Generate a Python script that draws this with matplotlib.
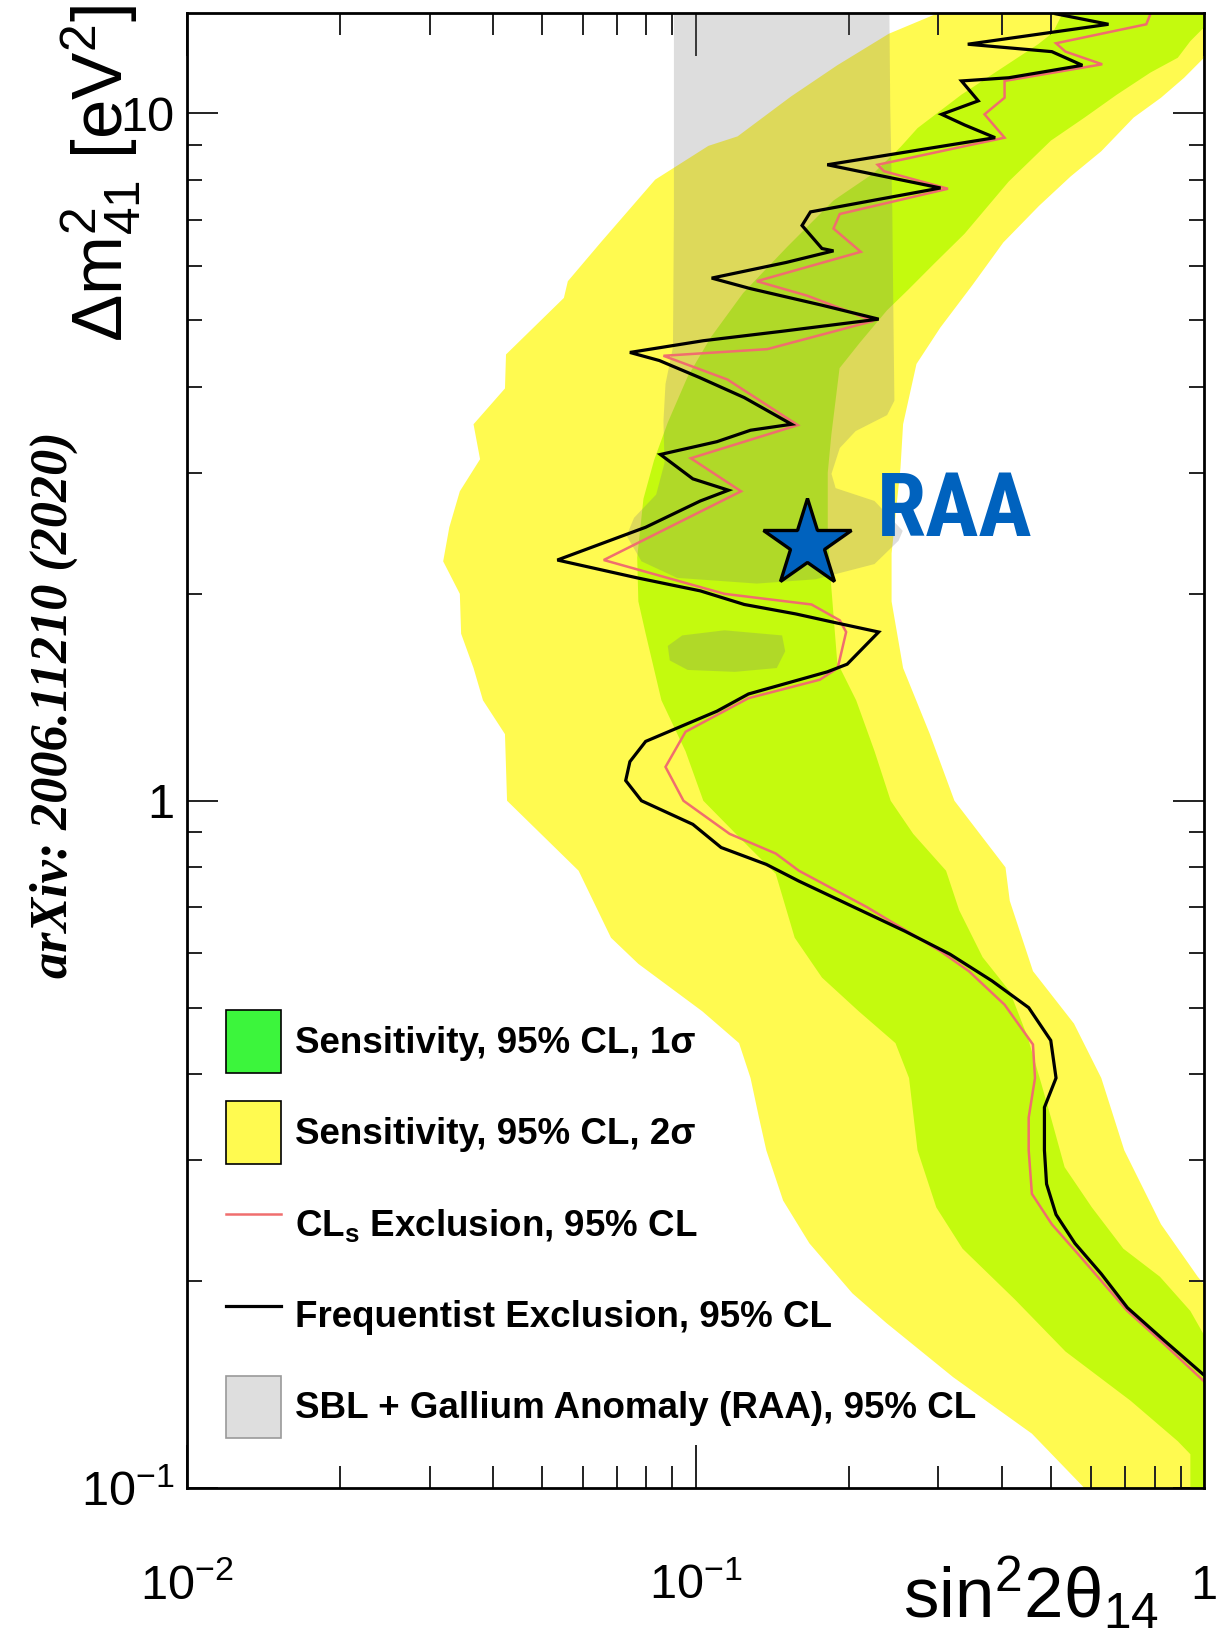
import numpy as np
import matplotlib
matplotlib.use("Agg")
import matplotlib.pyplot as plt
from matplotlib import font_manager as fm
from matplotlib.patches import Patch
from matplotlib.lines import Line2D
from matplotlib.ticker import LogLocator, NullFormatter, FixedLocator, FixedFormatter

plt.rcParams['font.family'] = ['Liberation Sans', 'DejaVu Sans']
plt.rcParams['mathtext.fontset'] = 'custom'
plt.rcParams['mathtext.rm'] = 'Liberation Sans'
plt.rcParams['mathtext.it'] = 'Liberation Sans:italic'
plt.rcParams['mathtext.bf'] = 'Liberation Sans:bold'

# ---------------- data (sin^2 2theta14, dm41^2 [eV^2]) ----------------
# 2 sigma sensitivity band: left and right edges (top -> bottom)
yellow_left_x = [0.298, 0.2976, 0.240, 0.190, 0.154, 0.121, 0.106, 0.0833, 0.0651, 0.0561, 0.0551,
                 0.0424, 0.0422, 0.0366, 0.0377, 0.0344, 0.0328, 0.0319, 0.0344, 0.0346, 0.0366,
                 0.0382, 0.0422, 0.0426, 0.0589, 0.0682, 0.0772, 0.1031, 0.1218, 0.1283, 0.1333,
                 0.1378, 0.1487, 0.1675, 0.2035, 0.2370, 0.3211, 0.4587, 0.5819, 0.65]
yellow_left_y = [15, 13.96, 13.06, 11.75, 10.58, 9.26, 8.97, 8.01, 6.49, 5.70, 5.39,
                 4.46, 3.98, 3.53, 3.14, 2.82, 2.50, 2.23, 2.00, 1.75, 1.56,
                 1.40, 1.25, 1.00, 0.791, 0.632, 0.579, 0.494, 0.444, 0.395, 0.346,
                 0.310, 0.262, 0.227, 0.192, 0.174, 0.145, 0.120, 0.100, 0.09]
yellow_right_x = [1.3, 1.3, 1.0, 0.914, 0.823, 0.727, 0.628, 0.547, 0.474, 0.403, 0.350, 0.303,
                  0.272, 0.256, 0.253, 0.243, 0.243, 0.256, 0.289, 0.323, 0.407, 0.415, 0.461,
                  0.555, 0.628, 0.697, 0.823, 0.972, 1.3, 1.3]
yellow_right_y = [15, 13.5, 12.05, 11.27, 10.54, 9.86, 8.81, 8.10, 7.34, 6.49, 5.62, 4.88,
                  4.32, 3.53, 3.05, 2.29, 1.95, 1.56, 1.25, 1.00, 0.80, 0.715, 0.565,
                  0.474, 0.395, 0.310, 0.242, 0.203, 0.157, 0.09]

# 1 sigma sensitivity band
green_left_x = [0.53, 0.5265, 0.5044, 0.4719, 0.3996, 0.3335, 0.2733, 0.2532, 0.2238, 0.1868,
                0.1516, 0.1241, 0.1071, 0.0965, 0.0882, 0.0829, 0.0790, 0.0768, 0.0772, 0.0798,
                0.0857, 0.0956, 0.1036, 0.1241, 0.1438, 0.1567, 0.1773, 0.2094, 0.2473, 0.2630,
                0.2733, 0.2976, 0.3351, 0.4250, 0.5341, 0.7170, 0.8880, 0.9401, 0.9401, 0.94]
green_left_y = [15, 13.96, 13.11, 12.61, 11.63, 10.65, 9.52, 8.94, 8.18, 7.47,
                6.40, 5.48, 4.72, 4.14, 3.55, 3.13, 2.75, 2.26, 1.95, 1.75,
                1.40, 1.18, 1.00, 0.873, 0.783, 0.632, 0.553, 0.494, 0.444, 0.395,
                0.310, 0.256, 0.223, 0.188, 0.158, 0.134, 0.117, 0.112, 0.100, 0.09]
green_right_x = [1.3, 1.3, 1.0, 0.940, 0.888, 0.785, 0.674, 0.582, 0.500, 0.413, 0.338, 0.295,
                 0.262, 0.238, 0.211, 0.192, 0.185, 0.182, 0.182, 0.185, 0.190, 0.207, 0.225,
                 0.242, 0.268, 0.311, 0.330, 0.367, 0.415, 0.450, 0.479, 0.500, 0.532, 0.602,
                 0.694, 0.819, 0.940, 1.0, 1.3, 1.3]
green_right_y = [15, 14, 13.34, 12.74, 12.05, 11.47, 10.65, 9.86, 9.13, 7.96, 6.68, 6.05,
                 5.54, 5.17, 4.65, 4.26, 3.41, 3.00, 2.45, 2.04, 1.59, 1.40, 1.18,
                 1.00, 0.895, 0.791, 0.693, 0.592, 0.528, 0.453, 0.387, 0.346, 0.293, 0.256,
                 0.223, 0.203, 0.181, 0.167, 0.16, 0.09]

# SBL + Gallium anomaly (RAA) allowed region
raa_x = [0.0907, 0.2404, 0.2415, 0.2438, 0.2450, 0.2461, 0.2381, 0.2065, 0.1922, 0.1851, 0.1886,
         0.2249, 0.2556, 0.2508, 0.2249, 0.1723, 0.1320, 0.0920, 0.0783, 0.0732, 0.0757, 0.0837,
         0.0869, 0.0865, 0.0873, 0.0903, 0.0907]
raa_y = [15, 15, 10.25, 7.21, 5.08, 3.82, 3.64, 3.45, 3.26, 2.99, 2.85,
         2.73, 2.47, 2.39, 2.21, 2.10, 2.07, 2.11, 2.23, 2.43, 2.58, 2.79,
         3.10, 3.57, 4.04, 4.57, 7.21]
raa_island_x = [0.0882, 0.0942, 0.1140, 0.1480, 0.1501, 0.1445, 0.1195, 0.0965, 0.0890]
raa_island_y = [1.68, 1.74, 1.77, 1.74, 1.65, 1.56, 1.54, 1.55, 1.60]

# Frequentist exclusion contour
freq_x = [0.5117, 0.6489, 0.3431, 0.5020, 0.5765, 0.4131, 0.3335, 0.3598, 0.3048, 0.3383, 0.3883,
          0.1816, 0.3033, 0.1683, 0.1620, 0.1773, 0.1868, 0.1740, 0.1508, 0.1076, 0.1283, 0.1773,
          0.2292, 0.1480, 0.1036, 0.0743, 0.0849, 0.1017, 0.1247, 0.1545, 0.1283, 0.1102, 0.0853,
          0.0988, 0.1161, 0.1022, 0.0798, 0.0535, 0.0768, 0.1022, 0.1247, 0.1574, 0.1922, 0.2292,
          0.1987, 0.1816, 0.1271, 0.1102, 0.0798, 0.0743, 0.0729, 0.0783, 0.0988, 0.1123, 0.1378,
          0.1597, 0.2581, 0.3166, 0.3828, 0.4521, 0.4996, 0.5117, 0.4855, 0.4855, 0.4902, 0.5117,
          0.5574, 0.6278, 0.7068, 0.8348, 1.0]
freq_y = [13.96, 13.48, 12.61, 12.30, 11.75, 11.27, 11.15, 10.43, 9.97, 9.62, 9.22,
          8.42, 7.79, 7.19, 6.87, 6.36, 6.31, 6.23, 6.07, 5.76, 5.56, 5.26,
          5.02, 4.82, 4.67, 4.49, 4.37, 4.13, 3.86, 3.53, 3.46, 3.33, 3.19,
          2.94, 2.83, 2.73, 2.50, 2.24, 2.11, 2.02, 1.93, 1.87, 1.81, 1.76,
          1.58, 1.54, 1.43, 1.35, 1.22, 1.14, 1.07, 1.00, 0.924, 0.855, 0.808,
          0.764, 0.646, 0.598, 0.547, 0.500, 0.448, 0.395, 0.358, 0.310, 0.277, 0.250,
          0.227, 0.205, 0.183, 0.164, 0.146]

# CLs exclusion contour
cls_x = [0.7847, 0.7700, 0.5117, 0.5341, 0.6307, 0.4053, 0.4053, 0.3702, 0.4053, 0.2281, 0.2348,
         0.3136, 0.1922, 0.1868, 0.2114, 0.1320, 0.1659, 0.2238, 0.1384, 0.0865, 0.1156, 0.1589,
         0.0979, 0.1229, 0.0660, 0.1140, 0.1691, 0.1922, 0.1978, 0.1904, 0.1756, 0.1271, 0.0956,
         0.0873, 0.0947, 0.1167, 0.1438, 0.1597, 0.2175, 0.3033, 0.3448, 0.4053, 0.4609, 0.4652,
         0.4521, 0.4521, 0.4587, 0.5020, 0.5656, 0.7068, 0.8348, 1.0]
cls_y = [13.96, 13.48, 12.65, 12.30, 11.79, 11.15, 10.54, 9.97, 9.22, 8.42, 8.24,
         7.77, 7.14, 6.80, 6.29, 5.70, 5.43, 4.99, 4.54, 4.44, 4.10, 3.52,
         3.15, 2.82, 2.24, 2.00, 1.93, 1.83, 1.76, 1.56, 1.50, 1.41, 1.26,
         1.12, 1.00, 0.895, 0.838, 0.791, 0.700, 0.604, 0.565, 0.505, 0.442, 0.395,
         0.346, 0.310, 0.268, 0.242, 0.219, 0.181, 0.162, 0.143]

# RAA best fit
raa_best_x = [0.166]
raa_best_y = [2.36]

xtick_vals = [0.01, 0.1, 1]
xtick_labels = [r'$10^{-2}$', r'$10^{-1}$', '1']
ytick_vals = [0.1, 1, 10]
ytick_labels = [r'$10^{-1}$', '1', '10']

legend_labels = ['Sensitivity, 95% CL, 1σ', 'Sensitivity, 95% CL, 2σ',
                 r'CL$_{\mathbf{s}}$ Exclusion, 95% CL', 'Frequentist Exclusion, 95% CL',
                 'SBL + Gallium Anomaly (RAA), 95% CL']

# ---------------- colours ----------------
c_yellow = '#fffa50'
c_lime = '#c4fa0e'
c_green_leg = '#3cf53c'
c_gray = '#787878'
c_red = '#f06e6e'
c_blue = '#0062be'

# condensed font for the RAA tag if one is installed
raa_family, raa_size = 'Liberation Sans', 53
for fam in ['Roboto Condensed', 'Liberation Sans Narrow', 'Noto Sans Condensed',
            'Open Sans Condensed', 'DejaVu Sans Condensed']:
    try:
        fm.findfont(fm.FontProperties(family=fam, weight='bold'), fallback_to_default=False)
        raa_family, raa_size = fam, 64
        break
    except Exception:
        pass

# ---------------- figure ----------------
fig = plt.figure(figsize=(12.19, 16.45), dpi=100)
ax = fig.add_axes([0.1534, 0.0954, 0.8343, 0.8967])
ax.set_xscale('log')
ax.set_yscale('log')

yx = np.concatenate([yellow_left_x, yellow_right_x[::-1]])
yy = np.concatenate([yellow_left_y, yellow_right_y[::-1]])
ax.fill(yx, yy, color=c_yellow, lw=0, zorder=1)

gx = np.concatenate([green_left_x, green_right_x[::-1]])
gy = np.concatenate([green_left_y, green_right_y[::-1]])
ax.fill(gx, gy, color=c_lime, lw=0, zorder=2)

ax.fill(raa_x, raa_y, color=c_gray, alpha=0.25, lw=0, zorder=3)
ax.fill(raa_island_x, raa_island_y, color=c_gray, alpha=0.25, lw=0, zorder=3)

ax.plot(cls_x, cls_y, color=c_red, lw=1.8, zorder=4, solid_joinstyle='miter')
ax.plot(freq_x, freq_y, color='black', lw=2.3, zorder=5, solid_joinstyle='miter')

ax.plot(raa_best_x, raa_best_y, marker='*', ms=66, mfc=c_blue, mec='black', mew=2.4,
        ls='none', zorder=6)
ax.text(0.227, 2.43, 'RAA', color=c_blue, fontsize=raa_size, fontweight='bold',
        family=[raa_family, 'DejaVu Sans'], ha='left', va='baseline', zorder=7)

ax.set_xlim(0.01, 1)
ax.set_ylim(0.1, 14)

ax.xaxis.set_major_locator(FixedLocator(xtick_vals))
ax.xaxis.set_major_formatter(FixedFormatter(xtick_labels))
ax.yaxis.set_major_locator(FixedLocator(ytick_vals))
ax.yaxis.set_major_formatter(FixedFormatter(ytick_labels))
ax.xaxis.set_minor_locator(LogLocator(base=10, subs=np.arange(2, 10), numticks=100))
ax.yaxis.set_minor_locator(LogLocator(base=10, subs=np.arange(2, 10), numticks=100))
ax.xaxis.set_minor_formatter(NullFormatter())
ax.yaxis.set_minor_formatter(NullFormatter())

ax.tick_params(which='both', direction='in', top=True, right=True, width=1.4, color='#222222')
ax.xaxis.set_tick_params(which='major', length=31, pad=80, labelsize=35)
ax.xaxis.set_tick_params(which='minor', length=16)
ax.yaxis.set_tick_params(which='major', length=22, pad=9, labelsize=35)
ax.yaxis.set_tick_params(which='minor', length=11)
for lab in ax.get_xticklabels():
    lab.set_verticalalignment('baseline')
for sp in ax.spines.values():
    sp.set_linewidth(2.0)
    sp.set_zorder(10)

# axis titles (ROOT style placement)
fig.text(0.0837, 0.997, r'$\Delta\mathrm{m}^{2}_{41}$ [$\mathrm{eV}^{2}$]', rotation=90,
         ha='center', va='top', fontsize=51)
fig.text(0.9508, 0.017, r'$\mathrm{sin}^{2}\mathrm{2θ}_{14}$', ha='right', va='baseline',
         fontsize=51)

fig.text(0.0445, 0.5714, 'arXiv: 2006.11210 (2020)', rotation=90, ha='center', va='center',
         fontsize=37.5, family=['Liberation Serif', 'DejaVu Serif'], style='italic',
         weight='bold')

handles = [Patch(facecolor=c_green_leg, edgecolor='black', lw=1.2),
           Patch(facecolor=c_yellow, edgecolor='black', lw=1.2),
           Line2D([], [], color=c_red, lw=1.8),
           Line2D([], [], color='black', lw=2.3),
           Patch(facecolor='#dedede', edgecolor='#9a9a9a', lw=1.2)]
leg = ax.legend(handles, legend_labels, loc='upper left', bbox_to_anchor=(0.185, 0.386),
                bbox_transform=fig.transFigure, frameon=False,
                prop={'family': 'Liberation Sans', 'weight': 'bold', 'size': 26.5},
                handlelength=1.52, handleheight=2.235, handletextpad=0.355,
                labelspacing=0.785, borderpad=0, borderaxespad=0)
leg.set_zorder(8)

fig.savefig('out.png', dpi=100)
